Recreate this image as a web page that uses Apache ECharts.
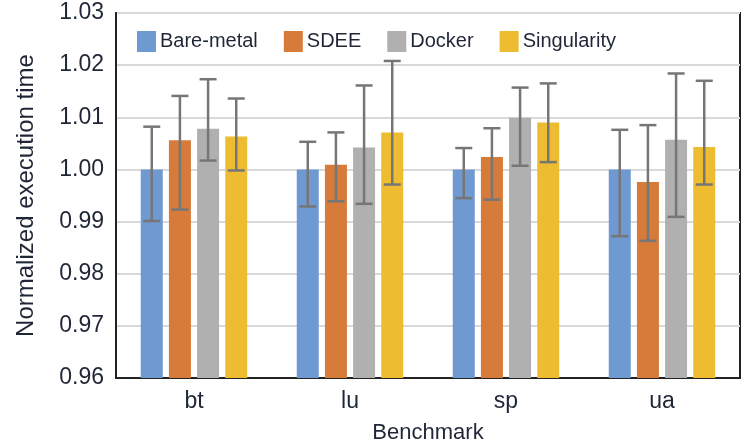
<!DOCTYPE html>
<html>
<head>
<meta charset="utf-8">
<script src="https://cdn.jsdelivr.net/npm/echarts@6/dist/echarts.min.js"></script>
<style>
  html, body { margin: 0; padding: 0; background: #fff; }
  #chart { width: 743px; height: 445px; }
</style>
</head>
<body>
<div id="chart"></div>
<script>
var benchmarks = ["bt", "lu", "sp", "ua"];
var seriesNames = ["Bare-metal", "SDEE", "Docker", "Singularity"];

// mean normalized time per benchmark
var bareMetal = [1.000, 1.000, 1.000, 1.000];
var sdee = [1.0056, 1.0009, 1.0024, 0.9976];
var docker = [1.0078, 1.0042, 1.0099, 1.0057];
var singularity = [1.0063, 1.0071, 1.0090, 1.0043];

// error bar bounds [low, high]
var bareMetalErr = [[0.9901, 1.0082], [0.9929, 1.0053], [0.9945, 1.0041], [0.9872, 1.0076]];
var sdeeErr = [[0.9923, 1.0141], [0.9939, 1.0071], [0.9942, 1.0079], [0.9863, 1.0085]];
var dockerErr = [[1.0017, 1.0173], [0.9934, 1.0161], [1.0007, 1.0157], [0.9909, 1.0184]];
var singularityErr = [[0.9998, 1.0136], [0.9971, 1.0208], [1.0014, 1.0165], [0.9971, 1.0170]];

var yTicks = [0.96, 0.97, 0.98, 0.99, 1.00, 1.01, 1.02, 1.03];

var colors = ["#6f99d1", "#d67b39", "#b0b0b1", "#edbc31"];
var values = [bareMetal, sdee, docker, singularity];
var errors = [bareMetalErr, sdeeErr, dockerErr, singularityErr];

var BAR_W = 22;
var BAR_GAP = 0.28;
var textColor = "#1f2636";

var chart = echarts.init(document.getElementById("chart"));

function errorSeries(idx) {
  var data = errors[idx].map(function (e, i) {
    return [i, e[0], e[1]];
  });
  return {
    type: "custom",
    name: seriesNames[idx] + "-err",
    z: 5,
    silent: true,
    renderItem: function (params, api) {
      var step = BAR_W * (1 + BAR_GAP);
      var offset = (idx - 1.5) * step;
      var lo = api.coord([api.value(0), api.value(1)]);
      var hi = api.coord([api.value(0), api.value(2)]);
      var x = lo[0] + offset;
      var cap = 8.5;
      var style = { stroke: "#767676", lineWidth: 2.5 };
      return {
        type: "group",
        children: [
          { type: "line", shape: { x1: x, y1: lo[1], x2: x, y2: hi[1] }, style: style },
          { type: "line", shape: { x1: x - cap, y1: lo[1], x2: x + cap, y2: lo[1] }, style: style },
          { type: "line", shape: { x1: x - cap, y1: hi[1], x2: x + cap, y2: hi[1] }, style: style }
        ]
      };
    },
    data: data
  };
}

var series = [];
seriesNames.forEach(function (name, idx) {
  series.push({
    name: name,
    type: "bar",
    barWidth: BAR_W,
    barGap: (BAR_GAP * 100) + "%",
    itemStyle: { color: colors[idx] },
    data: values[idx]
  });
});
seriesNames.forEach(function (name, idx) {
  series.push(errorSeries(idx));
});

var option = {
  animation: false,
  backgroundColor: "#fff",
  textStyle: { fontFamily: "Liberation Sans, Arial, sans-serif" },
  legend: {
    data: seriesNames,
    left: 132,
    top: 26,
    itemWidth: 19,
    itemHeight: 21,
    itemGap: 26,
    icon: "rect",
    textStyle: { fontSize: 20, color: textColor, padding: [0, 0, 0, -1] }
  },
  grid: {
    left: 116,
    right: 3,
    top: 13,
    bottom: 67,
    outerBoundsMode: "none",
    show: true,
    borderColor: "#222",
    borderWidth: 2
  },
  xAxis: {
    type: "category",
    data: benchmarks,
    name: "Benchmark",
    nameLocation: "middle",
    nameGap: 44,
    nameTextStyle: { fontSize: 22, color: textColor },
    axisTick: { show: false },
    axisLine: { show: true, lineStyle: { color: "#222", width: 2 } },
    axisLabel: { fontSize: 23, color: textColor, margin: 12 }
  },
  yAxis: {
    type: "value",
    min: yTicks[0],
    max: yTicks[yTicks.length - 1],
    interval: 0.01,
    name: "Normalized execution time",
    nameLocation: "middle",
    nameGap: 78,
    nameTextStyle: { fontSize: 24, color: textColor },
    axisLine: { show: true, lineStyle: { color: "#222", width: 2 } },
    axisTick: { show: false },
    axisLabel: {
      fontSize: 23,
      color: textColor,
      margin: 12,
      formatter: function (v) { return v.toFixed(2); }
    },
    splitLine: { lineStyle: { color: "#d9d9d9", width: 2 } }
  },
  series: series
};

chart.setOption(option);
</script>
</body>
</html>
